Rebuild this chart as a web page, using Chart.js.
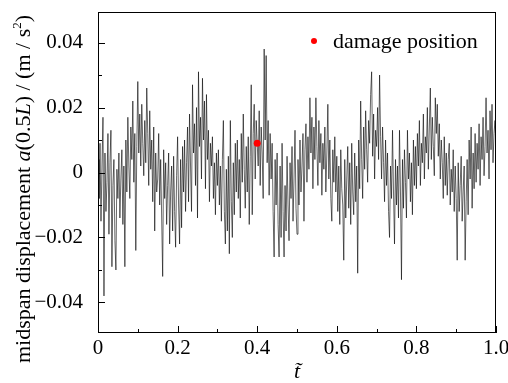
<!DOCTYPE html>
<html>
<head>
<meta charset="utf-8">
<script src="https://cdn.jsdelivr.net/npm/chart.js@4"></script>
<style>
  body { margin: 0; background: #fff; }
  canvas { display: block; }
</style>
</head>
<body>
<canvas id="grafico" width="508" height="383"></canvas>
<script>
// sampling step of the signal (t from 0 to 1)
const dt = 0.0025;

// midspan acceleration (401 samples)
const aMid = [
  0.004, -0.008, 0.009, -0.015, 0.002, 0.017, -0.038, 0.006, -0.012, -0.003, 0.012, -0.019, 0.003, 0.013, -0.029, -0.004, 0.004, -0.021, -0.030, 0.001,
  -0.008, 0.006, -0.014, -0.002, 0.007, -0.016, 0.002, -0.029, 0.010, -0.006, 0.017, 0.002, -0.008, 0.014, 0.004, 0.022, -0.003, 0.012, -0.024, 0.008,
  0.028, 0.006, 0.018, 0.002, 0.021, 0.009, -0.001, 0.016, 0.003, 0.026, 0.012, -0.004, 0.019, 0.001, 0.010, -0.009, 0.014, -0.018, 0.006, -0.006,
  -0.002, 0.012, -0.010, 0.004, -0.014, -0.032, 0.007, -0.008, 0.003, -0.016, -0.004, 0.006, -0.022, -0.006, 0.002, -0.018, 0.005, -0.012, -0.023, -0.001,
  0.011, -0.010, -0.022, 0.004, -0.017, 0.008, -0.006, 0.010, -0.012, 0.003, 0.014, -0.009, 0.018, 0.002, -0.012, 0.027, 0.006, 0.015, -0.004, 0.020,
  -0.014, 0.031, 0.008, 0.017, -0.002, 0.029, 0.010, 0.022, -0.005, 0.024, 0.004, 0.013, -0.009, 0.009, 0.002, 0.011, -0.008, 0.003, -0.013, 0.006,
  -0.004, 0.007, -0.010, 0.002, -0.015, 0.004, 0.016, -0.012, -0.022, 0.001, -0.018, 0.005, -0.025, 0.016, -0.009, -0.020, 0.003, -0.013, 0.009, -0.006,
  0.010, -0.008, 0.004, -0.014, 0.012, -0.003, 0.018, 0.001, -0.011, 0.008, -0.006, 0.011, -0.016, 0.005, 0.027, -0.013, 0.012, 0.021, -0.002, 0.016,
  0.009, 0.002, 0.019, -0.004, 0.014, 0.006, -0.008, 0.038, 0.010, 0.036, 0.003, 0.016, -0.007, 0.012, -0.002, 0.009, -0.012, -0.026, 0.004, -0.010,
  0.006, -0.016, -0.026, 0.002, -0.020, 0.009, -0.012, -0.026, -0.004, -0.018, 0.005, -0.010, -0.021, 0.003, -0.008, 0.008, -0.015, -0.002, 0.013, -0.011,
  -0.019, 0.004, -0.010, 0.010, -0.006, 0.002, 0.012, -0.015, 0.007, 0.015, -0.003, 0.011, 0.001, 0.023, 0.006, 0.017, -0.005, 0.014, 0.004, 0.023,
  0.008, -0.004, 0.016, 0.003, 0.012, -0.007, 0.009, 0.001, 0.014, -0.006, 0.006, 0.021, -0.002, 0.010, -0.008, -0.015, 0.007, -0.003, 0.011, -0.006,
  0.005, -0.012, 0.002, -0.016, 0.007, -0.005, -0.010, -0.027, 0.004, -0.014, -0.002, 0.008, -0.011, 0.003, -0.016, 0.009, -0.006, -0.013, 0.006, -0.009,
  0.002, -0.031, 0.010, -0.005, 0.022, 0.004, -0.008, 0.014, 0.001, 0.019, 0.007, -0.003, 0.016, 0.009, 0.024, 0.031, 0.005, 0.018, -0.002, 0.013,
  0.008, 0.020, 0.004, 0.030, 0.011, -0.002, 0.014, 0.003, -0.009, 0.010, -0.004, 0.006, -0.012, -0.020, 0.002, -0.008, 0.013, -0.006, -0.022, 0.004,
  -0.010, 0.002, -0.014, 0.013, -0.006, -0.033, 0.004, -0.011, 0.007, -0.003, -0.014, 0.013, -0.002, 0.006, -0.009, 0.003, -0.013, 0.010, -0.004, 0.008,
  -0.005, 0.012, 0.002, 0.016, -0.004, 0.009, 0.003, 0.018, -0.002, 0.011, 0.006, 0.020, 0.001, 0.014, 0.026, 0.004, 0.017, 0.008, -0.001, 0.023,
  0.012, 0.021, 0.005, 0.015, -0.002, 0.010, 0.003, -0.008, 0.011, -0.004, 0.006, -0.007, 0.004, 0.009, -0.010, 0.001, -0.006, 0.007, -0.012, 0.002,
  -0.008, -0.027, 0.003, -0.012, -0.004, 0.005, -0.015, -0.006, 0.002, -0.027, -0.009, 0.004, -0.013, 0.010, -0.002, 0.014, -0.011, 0.006, -0.005, 0.012,
  -0.003, 0.009, 0.001, 0.015, -0.004, 0.011, 0.004, 0.017, -0.001, 0.008, 0.023, 0.006, 0.013, -0.002, 0.019, 0.007, 0.021, 0.003, 0.012, 0.016, 0.006
];

// damage position marker
const damageT = [0.4];
const damageA = [0.009];

// axis ticks
const xTicks = [0, 0.2, 0.4, 0.6, 0.8, 1.0];
const xTickLabels = ["0", "0.2", "0.4", "0.6", "0.8", "1.0"];
const xMinor = [0.1, 0.3, 0.5, 0.7, 0.9];
const yTicks = [-0.04, -0.02, 0, 0.02, 0.04];
const yTickLabels = ["\u22120.04", "\u22120.02", "0", "0.02", "0.04"];
const yMinor = [-0.03, -0.01, 0.01, 0.03];

const serif = "'Liberation Serif', 'Times New Roman', serif";

// frame + inward ticks + axis titles + legend
const decoPlugin = {
  id: "deco",
  afterDraw(chart) {
    const ctx = chart.ctx;
    const a = chart.chartArea;
    const xs = chart.scales.x, ys = chart.scales.y;
    ctx.save();
    ctx.strokeStyle = "#000";
    ctx.lineWidth = 1;
    ctx.strokeRect(a.left + 0.5, a.top + 0.5, a.right - a.left - 1, a.bottom - a.top - 1);

    ctx.beginPath();
    yTicks.forEach(v => {
      const p = Math.round(ys.getPixelForValue(v)) + 0.5;
      ctx.moveTo(a.left, p); ctx.lineTo(a.left + 7, p);
    });
    yMinor.forEach(v => {
      const p = Math.round(ys.getPixelForValue(v)) + 0.5;
      ctx.moveTo(a.left, p); ctx.lineTo(a.left + 4, p);
    });
    xTicks.forEach(v => {
      const p = Math.round(xs.getPixelForValue(v)) + 0.5;
      ctx.moveTo(p, a.bottom); ctx.lineTo(p, a.bottom - 7);
    });
    xMinor.forEach(v => {
      const p = Math.round(xs.getPixelForValue(v)) + 0.5;
      ctx.moveTo(p, a.bottom); ctx.lineTo(p, a.bottom - 4);
    });
    ctx.stroke();

    // y title, rotated, mixed italic
    const fs = 22;
    const parts = [
      ["midspan displacement ", "normal", fs, 0],
      ["a", "italic", fs, 0],
      ["(0.5", "normal", fs, 0],
      ["L", "italic", fs, 0],
      [") / (m / s", "normal", fs, 0],
      ["2", "normal", 13, -9],
      [")", "normal", fs, 0]
    ];
    let total = 0;
    parts.forEach(p => { ctx.font = p[1] + " " + p[2] + "px " + serif; total += ctx.measureText(p[0]).width; });
    ctx.translate(30, 189);
    ctx.rotate(-Math.PI / 2);
    ctx.fillStyle = "#000";
    ctx.textBaseline = "alphabetic";
    ctx.textAlign = "left";
    let cx = -total / 2;
    parts.forEach(p => {
      ctx.font = p[1] + " " + p[2] + "px " + serif;
      ctx.fillText(p[0], cx, p[3]);
      cx += ctx.measureText(p[0]).width;
    });
    ctx.setTransform(1, 0, 0, 1, 0, 0);

    // x title
    ctx.font = "italic 22px " + serif;
    ctx.textAlign = "center";
    ctx.fillText("t\u0303", (a.left + a.right) / 2, 378);

    // legend
    ctx.fillStyle = "#ff0000";
    ctx.beginPath();
    ctx.arc(314, 41, 3, 0, Math.PI * 2);
    ctx.fill();
    ctx.fillStyle = "#000";
    ctx.textAlign = "left";
    ctx.font = "22px " + serif;
    ctx.fillText("damage position", 333, 48);
    ctx.restore();
  }
};

new Chart(document.getElementById("grafico"), {
  type: "line",
  data: {
    datasets: [
      {
        label: "a(0.5L)",
        data: aMid.map((v, i) => ({ x: i * dt, y: v })),
        borderColor: "#000",
        borderWidth: 0.6,
        pointRadius: 0,
        tension: 0,
        order: 2
      },
      {
        type: "scatter",
        label: "damage position",
        data: damageT.map((t, i) => ({ x: t, y: damageA[i] })),
        backgroundColor: "#ff0000",
        borderColor: "#ff0000",
        borderWidth: 0,
        pointRadius: 3.5,
        order: 1
      }
    ]
  },
  options: {
    responsive: false,
    animation: false,
    devicePixelRatio: 1,
    layout: { padding: { top: 12, right: 12, left: 0, bottom: 0 } },
    plugins: {
      legend: { display: false },
      tooltip: { enabled: false }
    },
    scales: {
      x: {
        type: "linear",
        min: 0,
        max: 1,
        grid: { display: false, drawTicks: false },
        border: { display: false },
        afterBuildTicks: s => { s.ticks = xTicks.map(v => ({ value: v })); },
        afterFit: s => { s.height = 50; s.paddingLeft = 0; s.paddingRight = 0; },
        ticks: {
          autoSkip: false,
          maxRotation: 0,
          padding: 3,
          color: "#000",
          font: { family: serif, size: 21 },
          callback: (v, i) => xTickLabels[i]
        }
      },
      y: {
        min: -0.0494,
        max: 0.0494,
        grid: { display: false, drawTicks: false },
        border: { display: false },
        afterBuildTicks: s => { s.ticks = yTicks.map(v => ({ value: v })); },
        afterFit: s => { s.width = 98; s.paddingTop = 0; s.paddingBottom = 0; },
        ticks: {
          autoSkip: false,
          padding: 15,
          color: "#000",
          font: { family: serif, size: 21 },
          callback: (v, i) => yTickLabels[i]
        }
      }
    }
  },
  plugins: [decoPlugin]
});
</script>
</body>
</html>
